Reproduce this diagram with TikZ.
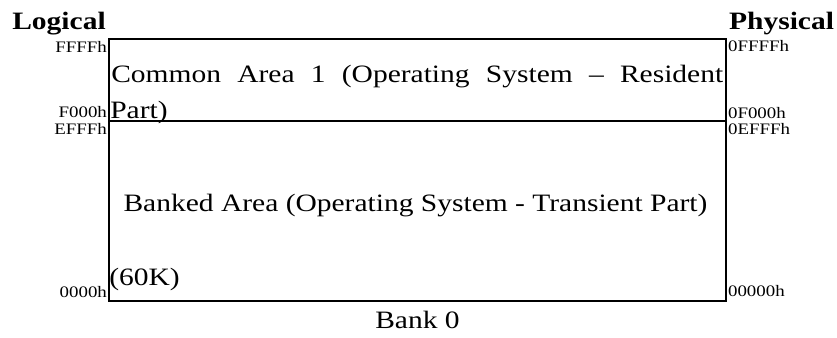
\documentclass[tikz,border=0pt]{standalone}
\usepackage{fontspec}
\setmainfont{Liberation Serif}
\usepackage{graphicx}

\tikzstyle{area} = [rectangle, draw=black, line width=1.8pt, minimum width=617pt, inner sep=0pt]
\tikzstyle{addr} = [inner sep=0pt, font=\fontsize{16}{16}\selectfont]
\tikzstyle{txt}  = [inner sep=0pt, font=\fontsize{25}{30}\selectfont]
\tikzstyle{head} = [inner sep=0pt, font=\fontsize{25}{30}\selectfont\bfseries]
\newcommand{\wide}[1]{\scalebox{1.18}[1]{#1}}

\begin{document}
\begin{tikzpicture}[x=1pt,y=1pt]
\useasboundingbox (0,0) rectangle (837,337);

% memory areas of bank 0
\node (common) [area, minimum height=82pt] at (417.5,257) {};
\node (banked) [area, minimum height=180pt] at (417.5,126) {};

% headings
\node (logical)  [head, anchor=base west] at ([xshift=-96pt,yshift=9pt]common.north west) {\wide{Logical}};
\node (physical) [head, anchor=base west] at ([xshift=2pt,yshift=9pt]common.north east) {\wide{Physical}};

% logical addresses
\node (lffff) [addr, anchor=base east] at ([xshift=-1pt,yshift=-14pt]common.north west) {\wide{FFFFh}};
\node (lf000) [addr, anchor=base east] at ([xshift=-1pt,yshift=4pt]common.south west) {\wide{F000h}};
\node (lefff) [addr, anchor=base east] at ([xshift=-1pt,yshift=-14pt]banked.north west) {\wide{EFFFh}};
\node (l0000) [addr, anchor=base east] at ([xshift=-1pt,yshift=4pt]banked.south west) {\wide{0000h}};

% physical addresses
\node (pffff) [addr, anchor=base west] at ([xshift=1pt,yshift=-13pt]common.north east) {\wide{0FFFFh}};
\node (pf000) [addr, anchor=base west] at ([xshift=1pt,yshift=3pt]common.south east) {\wide{0F000h}};
\node (pefff) [addr, anchor=base west] at ([xshift=1pt,yshift=-14pt]banked.north east) {\wide{0EFFFh}};
\node (p0000) [addr, anchor=base west] at ([xshift=1pt,yshift=5pt]banked.south east) {\wide{00000h}};

% area texts
\node (comtxt)  [txt, anchor=base west] at ([xshift=3pt,yshift=-44pt]common.north west)
      {\wide{\makebox[518.6pt][s]{Common Area 1 (Operating System -- Resident}}};
\node (comtxtb) [txt, anchor=base west] at ([xshift=2pt,yshift=3pt]common.south west) {\wide{Part)}};
\node (bnktxt)  [txt, anchor=base] at ([xshift=-2pt,yshift=-1pt]banked.center)
      {\wide{Banked Area (Operating System - Transient Part)}};
\node (bnksize) [txt, anchor=base west] at ([xshift=1pt,yshift=16pt]banked.south west) {\wide{(60K)}};

\node (bank) [txt, anchor=base] at ([yshift=-27pt]banked.south) {\wide{Bank 0}};
\end{tikzpicture}
\end{document}
